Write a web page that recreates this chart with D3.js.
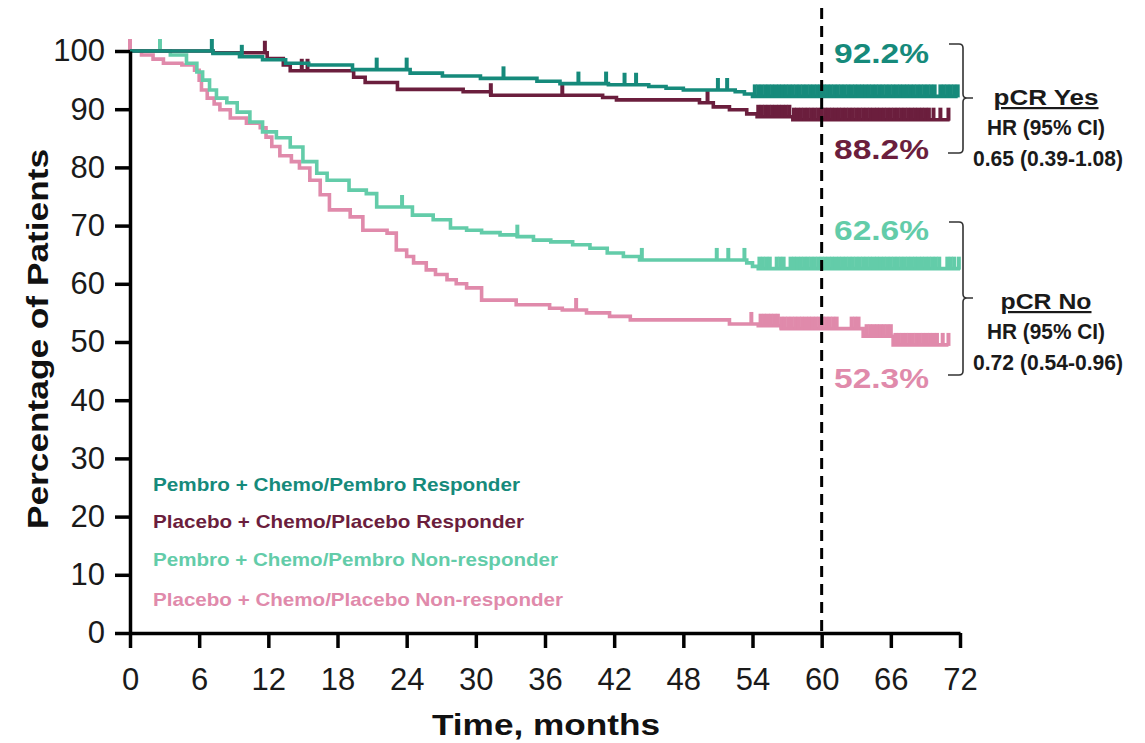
<!DOCTYPE html>
<html><head><meta charset="utf-8">
<script src="https://cdn.jsdelivr.net/npm/d3@7"></script>
<style>
html,body{margin:0;padding:0;background:#fff;}
svg{display:block;font-family:"Liberation Sans",Arial,Helvetica,sans-serif;}
</style></head><body>
<svg id="chart" width="1145" height="743"></svg>
<script>
// ---------- DATA ----------
const xTicks = [0, 6, 12, 18, 24, 30, 36, 42, 48, 54, 60, 66, 72];
const yTicks = [0, 10, 20, 30, 40, 50, 60, 70, 80, 90, 100];
const seriesNames = [
  "Pembro + Chemo/Pembro Responder",
  "Placebo + Chemo/Placebo Responder",
  "Pembro + Chemo/Pembro Non-responder",
  "Placebo + Chemo/Placebo Non-responder"
];
const seriesColors = ["#168a7b", "#6b1e3d", "#63cca9", "#e08aab"];
const landmarkMonth = 60;
const landmarkLabels = ["92.2%", "88.2%", "62.6%", "52.3%"];

// Pembro responder
const prTime = [0, 7.2, 9.5, 11.5, 13.5, 15.5, 19.3, 24.3, 27.1, 30.4, 35.3, 37.3, 41.5, 45, 46.5, 48, 52.5, 53.3, 54, 71.8];
const prSurv = [100, 99.6, 99.0, 98.5, 97.9, 97.6, 96.8, 96.2, 95.7, 95.3, 94.8, 94.4, 94.2, 93.9, 93.6, 93.3, 93.0, 92.6, 92.2, 92.2];
const prCens = [7.1, 9.7, 21.4, 24.0, 32.4, 38.9, 41.3, 42.9, 43.9, 51.0, 51.8,
  54.2, 54.5, 54.8, 55.1, 55.4, 55.7, 56.0, 56.3, 56.6, 56.9, 57.2, 57.5, 57.8, 58.1, 58.4, 58.7, 59.0, 59.3, 59.6, 59.9,
  60.2, 60.5, 60.8, 61.1, 61.4, 61.7, 62.0, 62.3, 62.6, 62.9, 63.2, 63.5, 63.8, 64.1, 64.4, 64.7, 65.0, 65.3, 65.6, 65.9,
  66.2, 66.5, 66.8, 67.1, 67.4, 67.7, 68.0, 68.3, 68.6, 68.9, 69.2, 69.5, 69.8, 70.3, 70.6, 70.9, 71.2, 71.5, 71.8];

// Placebo responder
const plrTime = [0, 7.2, 11.9, 13.3, 13.9, 19.4, 20.4, 23.2, 28.9, 31.3, 41.0, 42.2, 49.4, 50.6, 52.0, 53.5, 54.4, 57.5, 71.1];
const plrSurv = [100, 99.7, 98.7, 97.6, 96.6, 95.5, 94.6, 93.4, 93.0, 92.4, 92.0, 91.6, 91.1, 90.4, 89.9, 89.2, 88.7, 88.2, 88.2];
const plrCens = [11.7, 14.9, 15.4, 31.3, 37.5, 50.1,
  54.5, 54.8, 55.1, 55.4, 55.7, 56.0, 56.3, 56.6, 56.9, 57.2, 57.6, 57.9, 58.2, 58.5, 58.8, 59.1, 59.4, 59.7, 60.0,
  60.3, 60.6, 60.9, 61.2, 61.5, 61.8, 62.1, 62.4, 62.7, 63.0, 63.3, 63.6, 63.9, 64.2, 64.5, 64.8, 65.1, 65.4, 65.7,
  66.0, 66.3, 66.6, 66.9, 67.2, 67.5, 67.8, 68.1, 68.4, 68.7, 69.0, 69.3, 69.7, 70.3, 71.0];

// Pembro non-responder
const pnrTime = [0, 3.5, 4.9, 5.8, 6.3, 6.9, 7.5, 8.4, 9.3, 10.4, 11.5, 12.7, 13.9, 15.0, 16.2, 17.1, 19.0, 20.5, 21.4, 24.5, 26.3, 27.8, 29.2, 30.5, 32.1, 33.6, 35.0, 36.5, 38.4, 39.9, 41.4, 42.8, 44.2, 53.5, 54.0, 54.5, 72.0];
const pnrSurv = [100, 99.3, 97.9, 96.4, 95.0, 93.3, 91.9, 91.1, 89.5, 87.8, 86.1, 85.1, 83.5, 81.0, 79.0, 77.8, 76.1, 75.5, 73.2, 71.8, 71.0, 69.6, 69.2, 68.8, 68.4, 68.1, 67.5, 67.2, 66.7, 66.1, 65.3, 64.7, 64.1, 63.6, 63.0, 62.6, 62.6];
const pnrCens = [2.6, 23.6, 33.6, 44.4, 50.9, 51.9, 53.3,
  54.6, 54.9, 55.2, 55.5, 56.1, 56.4, 56.7, 57.3, 57.6, 57.9, 58.2, 58.5, 58.8, 59.1, 59.4, 59.7, 60.0,
  60.3, 60.6, 60.9, 61.2, 61.5, 61.8, 62.1, 62.4, 62.7, 63.0, 63.3, 63.6, 63.9, 64.2, 64.5, 64.8, 65.1, 65.4, 65.7,
  66.0, 66.3, 66.6, 66.9, 67.2, 67.5, 67.8, 68.1, 68.4, 68.7, 69.0, 69.3, 69.6, 69.9, 70.2, 70.9, 71.2, 71.5, 71.9];

// Placebo non-responder
const plnrTime = [0, 1.0, 2.0, 2.9, 4.5, 5.6, 6.0, 6.2, 6.7, 7.3, 7.8, 8.7, 10.1, 11.3, 11.8, 12.3, 13.0, 14.0, 14.7, 15.6, 16.5, 17.3, 19.1, 20.2, 22.3, 23.1, 24.0, 24.6, 25.7, 26.5, 27.5, 28.3, 29.2, 30.5, 33.5, 36.4, 37.5, 39.6, 41.6, 43.4, 52.0, 54.5, 56.5, 63.6, 66.2, 71.0];
const plnrSurv = [100, 99.3, 98.6, 97.9, 97.6, 96.7, 95.0, 93.3, 91.9, 90.9, 89.9, 88.5, 87.6, 86.8, 85.2, 83.6, 82.0, 81.0, 79.9, 77.8, 75.3, 72.7, 71.5, 69.2, 68.7, 65.8, 64.7, 63.6, 62.4, 61.6, 60.7, 60.0, 59.3, 57.2, 56.4, 55.8, 55.5, 55.0, 54.4, 53.8, 53.1, 52.8, 52.3, 51.0, 49.5, 49.5];
const plnrCens = [0, 38.7, 53.9,
  54.7, 55.0, 55.3, 55.6, 55.9, 56.2, 56.5, 56.8, 57.1, 57.4, 57.7, 58.0, 58.3, 58.6, 58.9, 59.2, 59.5, 59.8,
  60.1, 60.4, 60.7, 61.0, 61.3, 62.6, 62.9, 63.2, 63.9, 64.2, 64.5, 64.8, 65.1, 65.4, 65.7, 66.0,
  66.4, 66.7, 67.0, 67.3, 67.6, 67.9, 68.2, 68.5, 68.8, 69.1, 69.4, 69.7, 70.0, 70.5, 71.0];

const hrGroups = [
  {title: "pCR Yes", hr: "HR (95% CI)", val: "0.65 (0.39-1.08)"},
  {title: "pCR No", hr: "HR (95% CI)", val: "0.72 (0.54-0.96)"}
];

// ---------- CHART ----------
const svg = d3.select("#chart");
const x = d3.scaleLinear().domain([0, 72]).range([130, 960]);
const y = d3.scaleLinear().domain([0, 100]).range([633, 51]);

const series = [
  {t: prTime, s: prSurv, c: prCens},
  {t: plrTime, s: plrSurv, c: plrCens},
  {t: pnrTime, s: pnrSurv, c: pnrCens},
  {t: plnrTime, s: plnrSurv, c: plnrCens}
].map((d, i) => Object.assign(d, {name: seriesNames[i], color: seriesColors[i]}));

function survAt(d, t) {
  let v = d.s[0];
  for (let i = 0; i < d.t.length; i++) if (d.t[i] <= t) v = d.s[i];
  return v;
}

const line = d3.line().curve(d3.curveStepAfter).x(p => x(p[0])).y(p => y(p[1]));
const drawOrder = [3, 2, 1, 0];
drawOrder.forEach(i => {
  const d = series[i];
  const g = svg.append("g");
  g.append("path")
    .attr("d", line(d.t.map((t, k) => [t, d.s[k]])))
    .attr("fill", "none").attr("stroke", d.color).attr("stroke-width", 3.6);
  g.selectAll("line.c").data(d.c).join("line")
    .attr("x1", t => x(t)).attr("x2", t => x(t))
    .attr("y1", t => y(survAt(d, t)) + 1)
    .attr("y2", t => y(survAt(d, t)) - 12)
    .attr("stroke", d.color).attr("stroke-width", 4);
});

// axes
const xAxis = svg.append("g").attr("transform", "translate(0,633)")
  .call(d3.axisBottom(x).tickValues(xTicks).tickSize(15).tickSizeOuter(0).tickPadding(20));
const yAxis = svg.append("g").attr("transform", "translate(130,0)")
  .call(d3.axisLeft(y).tickValues(yTicks).tickSize(15).tickSizeOuter(0).tickPadding(10));
[xAxis, yAxis].forEach(a => {
  a.select(".domain").attr("stroke", "#000").attr("stroke-width", 3.5);
  a.selectAll(".tick line").attr("stroke", "#000").attr("stroke-width", 3.5);
  a.selectAll(".tick text").attr("fill", "#1a1a1a").style("font-size", "31px")
    .style("font-family", "'Liberation Sans',Arial,sans-serif");
});

// dashed landmark line
svg.append("line")
  .attr("x1", x(landmarkMonth)).attr("x2", x(landmarkMonth))
  .attr("y1", 8).attr("y2", 633)
  .attr("stroke", "#000").attr("stroke-width", 3).attr("stroke-dasharray", "11,7");

// axis titles
svg.append("text").attr("x", 546).attr("y", 735).attr("text-anchor", "middle")
  .attr("font-weight", "bold").attr("font-size", 29).attr("fill", "#111")
  .attr("textLength", 228).attr("lengthAdjust", "spacingAndGlyphs").text("Time, months");
svg.append("text").attr("transform", "translate(48,339) rotate(-90)").attr("text-anchor", "middle")
  .attr("font-weight", "bold").attr("font-size", 29).attr("fill", "#111")
  .attr("textLength", 380).attr("lengthAdjust", "spacingAndGlyphs").text("Percentage of Patients");

// legend
const legendY = [491, 528, 566, 606];
const legendW = [367, 371, 405, 410];
series.forEach((d, i) => {
  svg.append("text").attr("x", 153).attr("y", legendY[i])
    .attr("font-weight", "bold").attr("font-size", 19).attr("fill", d.color)
    .attr("textLength", legendW[i]).attr("lengthAdjust", "spacingAndGlyphs").text(d.name);
});

// landmark percentage labels
const pctY = [63, 159, 240, 388];
landmarkLabels.forEach((lab, i) => {
  svg.append("text").attr("x", 834).attr("y", pctY[i])
    .attr("font-weight", "bold").attr("font-size", 28).attr("fill", seriesColors[i])
    .attr("textLength", 95).attr("lengthAdjust", "spacingAndGlyphs").text(lab);
});

// brackets + HR text
const brackets = [{top: 44, bot: 153, mid: 98, base: 105}, {top: 222, bot: 375, mid: 298, base: 309}];
brackets.forEach((b, i) => {
  const xr = 963;
  svg.append("path")
    .attr("d", `M949,${b.top} H${xr - 4} Q${xr},${b.top} ${xr},${b.top + 4} V${b.mid - 4} Q${xr},${b.mid} ${xr + 4},${b.mid} H${xr + 10} M${xr + 4},${b.mid} Q${xr},${b.mid} ${xr},${b.mid + 4} V${b.bot - 4} Q${xr},${b.bot} ${xr - 4},${b.bot} H948`)
    .attr("fill", "none").attr("stroke", "#333").attr("stroke-width", 1.6);
  const g = hrGroups[i];
  const cx = 1046;
  svg.append("text").attr("x", cx).attr("y", b.base).attr("text-anchor", "middle")
    .attr("font-weight", "bold").attr("font-size", 22).attr("fill", "#1a1a1a")
    .attr("text-decoration", "underline")
    .attr("textLength", i === 0 ? 105 : 91).attr("lengthAdjust", "spacingAndGlyphs").text(g.title);
  svg.append("text").attr("x", cx).attr("y", b.base + 30).attr("text-anchor", "middle")
    .attr("font-weight", "bold").attr("font-size", 22).attr("fill", "#1a1a1a")
    .attr("textLength", 118).attr("lengthAdjust", "spacingAndGlyphs").text(g.hr);
  svg.append("text").attr("x", cx + 2).attr("y", b.base + 61).attr("text-anchor", "middle")
    .attr("font-weight", "bold").attr("font-size", 22).attr("fill", "#1a1a1a")
    .attr("textLength", 150).attr("lengthAdjust", "spacingAndGlyphs").text(g.val);
});
</script>
</body></html>
